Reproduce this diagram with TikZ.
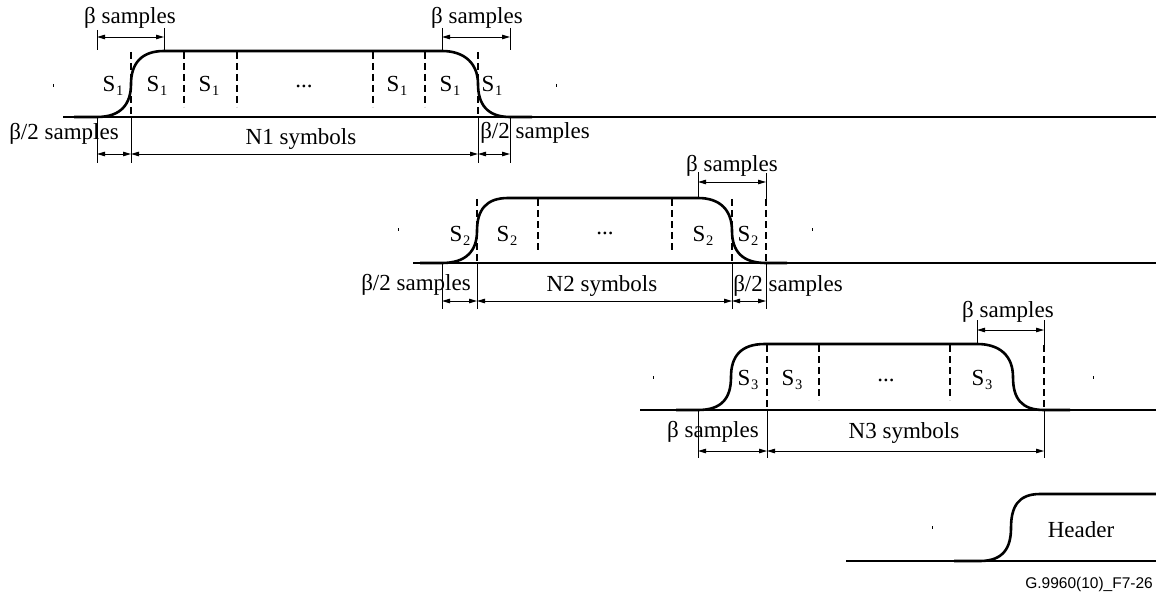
\documentclass[tikz,border=0pt]{standalone}
\usepackage{fontspec}
\setmainfont{Liberation Serif}
\newfontfamily\labelsans{Liberation Sans}
\usetikzlibrary{arrows.meta}
\newcommand{\symsub}[1]{S\kern0.5pt\raisebox{-4pt}{\fontsize{14.5}{15}\selectfont #1}}
\begin{document}
\begin{tikzpicture}[x=1pt,y=-1pt,
  sig/.style={line width=2.6pt},
  baseln/.style={line width=1.1pt},
  sep/.style={line width=1.1pt, dash pattern=on 7pt off 4pt},
  ext/.style={line width=0.9pt},
  dim/.style={line width=0.9pt, {Stealth[length=8pt,width=4.5pt,inset=0pt]}-{Stealth[length=8pt,width=4.5pt,inset=0pt]}},
  txt/.style={font=\fontsize{23}{27}\selectfont, inner sep=0pt, anchor=base},
  tickmark/.style={line width=0.8pt}
]
\useasboundingbox (0,0) rectangle (1156,596);

% ---------------- Section 1 ----------------
\draw[baseln] (63,117) -- (1156,117);
\draw[sig] (74,117) -- (97,117) .. controls (121,117) and (131,104) .. (131,84)
  .. controls (131,64) and (141,51) .. (164,51) -- (442,51)
  .. controls (465,51) and (478,64) .. (478,84)
  .. controls (478,104) and (487,117) .. (510,117) -- (532,117);
\foreach \x in {131,478} \draw[sep] (\x,52) -- (\x,117);
\foreach \x in {184,237,373,425} \draw[sep] (\x,52) -- (\x,107);
% extension lines
\draw[ext] (97,30) -- (97,50);
\draw[ext] (164,28) -- (164,51);
\draw[ext] (442,28) -- (442,51);
\draw[ext] (510,28) -- (510,50);
\foreach \x in {97,131,478,510} \draw[ext] (\x,117) -- (\x,163);
% dimension coordinates
\coordinate (p1a) at (97,37);  \coordinate (p1b) at (164,37);
\coordinate (p1c) at (442,37); \coordinate (p1d) at (510,37);
\coordinate (q1a) at (97,154); \coordinate (q1b) at (131,154);
\coordinate (q1c) at (478,154); \coordinate (q1d) at (510,154);
\draw[dim] (p1a) -- (p1b);
\draw[dim] (p1c) -- (p1d);
\draw[dim] (q1a) -- (q1b);
\draw[dim] (q1b) -- (q1c);
\draw[dim] (q1c) -- (q1d);
% texts
\node[txt] (b1l) at (130,24) {β samples};
\node[txt] (b1r) at (477,24) {β samples};
\node[txt] (h1l) at (64,140) {β/2 samples};
\node[txt] (h1r) at (535,139) {β/2 samples};
\node[txt] (n1) at (301,145) {N1 symbols};
\node[txt] (s1a) at (113,92) {\symsub{1}};
\node[txt] (s1b) at (157,92) {\symsub{1}};
\node[txt] (s1c) at (209,92) {\symsub{1}};
\node[txt] (s1d) at (397,92) {\symsub{1}};
\node[txt] (s1e) at (450,92) {\symsub{1}};
\node[txt] (s1f) at (492,92) {\symsub{1}};
\node[txt] (e1) at (304,88) {...};
\draw[tickmark] (53,84) -- (53,87);
\draw[tickmark] (556,84) -- (556,87);

% ---------------- Section 2 ----------------
\draw[baseln] (413,263) -- (1156,263);
\draw[sig] (420,263) -- (442,263) .. controls (466,263) and (477,251) .. (477,231)
  .. controls (477,210) and (486,198) .. (508,198) -- (698,198)
  .. controls (720,198) and (732,210) .. (732,231)
  .. controls (732,251) and (742,263) .. (766,263) -- (787,263);
\foreach \x in {477,732,766} \draw[sep] (\x,199) -- (\x,263);
\foreach \x in {538,672} \draw[sep] (\x,199) -- (\x,252);
\draw[ext] (698,172) -- (698,198);
\draw[ext] (766,173) -- (766,199);
\foreach \x in {442,477,732,766} \draw[ext] (\x,263) -- (\x,309);
\coordinate (p2a) at (698,182); \coordinate (p2b) at (766,182);
\coordinate (q2a) at (442,301); \coordinate (q2b) at (477,301);
\coordinate (q2c) at (732,301); \coordinate (q2d) at (766,301);
\draw[dim] (p2a) -- (p2b);
\draw[dim] (q2a) -- (q2b);
\draw[dim] (q2b) -- (q2c);
\draw[dim] (q2c) -- (q2d);
\node[txt] (b2) at (732,172) {β samples};
\node[txt] (h2l) at (416,290) {β/2 samples};
\node[txt] (h2r) at (788,291) {β/2 samples};
\node[txt] (n2) at (602,291) {N2 symbols};
\node[txt] (s2a) at (460,241) {\symsub{2}};
\node[txt] (s2b) at (507,241) {\symsub{2}};
\node[txt] (s2c) at (703,241) {\symsub{2}};
\node[txt] (s2d) at (748,241) {\symsub{2}};
\node[txt] (e2) at (605,234) {...};
\draw[tickmark] (398,228) -- (398,231);
\draw[tickmark] (812,228) -- (812,231);

% ---------------- Section 3 ----------------
\draw[baseln] (640,410) -- (1156,410);
\draw[sig] (676,410) -- (698,410) .. controls (722,410) and (731,398) .. (731,377)
  .. controls (731,356) and (741,344) .. (765,344) -- (977,344)
  .. controls (1000,344) and (1013,356) .. (1013,377)
  .. controls (1013,398) and (1021,410) .. (1044,410) -- (1070,410);
\foreach \x in {767,1044} \draw[sep] (\x,345) -- (\x,410);
\foreach \x in {819,950} \draw[sep] (\x,345) -- (\x,400);
\draw[ext] (977,320) -- (977,344);
\draw[ext] (1044,320) -- (1044,345);
\foreach \x in {698,767,1044} \draw[ext] (\x,410) -- (\x,458);
\coordinate (p3a) at (977,330); \coordinate (p3b) at (1044,330);
\coordinate (q3a) at (698,451); \coordinate (q3b) at (767,451);
\coordinate (q3c) at (1044,451);
\draw[dim] (p3a) -- (p3b);
\draw[dim] (q3a) -- (q3b);
\draw[dim] (q3b) -- (q3c);
\node[txt] (b3t) at (1008,317) {β samples};
\node[txt] (b3b) at (713,437) {β samples};
\node[txt] (n3) at (904,438) {N3 symbols};
\node[txt] (s3a) at (748,385) {\symsub{3}};
\node[txt] (s3b) at (792,385) {\symsub{3}};
\node[txt] (s3c) at (982,385) {\symsub{3}};
\node[txt] (e3) at (886,381) {...};
\draw[tickmark] (653,376) -- (653,379);
\draw[tickmark] (1093,376) -- (1093,379);

% ---------------- Section 4 ----------------
\draw[baseln] (846,561) -- (1156,561);
\draw[sig] (954,561) -- (980,561) .. controls (1003,561) and (1011,548) .. (1011,528)
  .. controls (1011,507) and (1018,494) .. (1040,494) -- (1156,494);
\node[txt] (hdr) at (1081,537) {Header};
\draw[tickmark] (932,526) -- (932,529);
\node[inner sep=0pt, anchor=base east, font=\labelsans\fontsize{15.5}{18}\selectfont] (fig) at (1153,588) {G.9960(10)\_F7-26};
\end{tikzpicture}
\end{document}
